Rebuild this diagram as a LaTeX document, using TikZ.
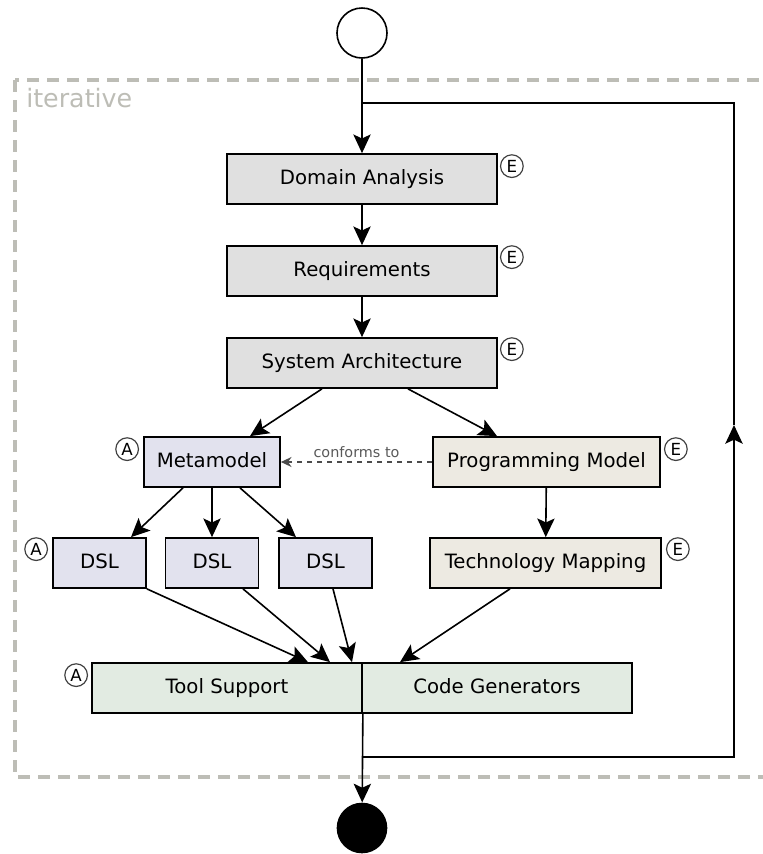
\documentclass[tikz,border=0pt]{standalone}
\usepackage{fontspec}
\setmainfont{DejaVu Sans}
\usepackage{tikz}
\usetikzlibrary{arrows.meta,calc}

\definecolor{boxgray}{HTML}{E0E0E0}
\definecolor{boxblue}{HTML}{E2E2EE}
\definecolor{boxsand}{HTML}{EDEAE2}
\definecolor{boxgreen}{HTML}{E2EBE2}
\definecolor{framegray}{HTML}{BDBDB6}

\begin{document}
\begin{tikzpicture}[x=0.75pt,y=-0.75pt]
		\tikzset{stepbox/.style={draw=black,line width=1.3pt,minimum height=37.5pt,inner sep=0pt,text height=10.8pt,text depth=3.2pt,font=\fontsize{14.8}{17}\selectfont}}
		\tikzset{badge/.style={circle,draw=black!75,line width=0.9pt,minimum size=17pt,inner sep=0pt,font=\fontsize{12.5}{13}\selectfont}}
		\tikzset{arr/.style={-{Stealth[length=14pt,width=13pt,inset=3pt]},line width=1.2pt}}
		\useasboundingbox (0,0) rectangle (763,854);
		\draw[framegray,line width=2.3pt,dash pattern=on 9pt off 6pt] (15,80) rectangle (790,777); %iteration frame
		\node[anchor=base west,inner sep=0pt,text=framegray,font=\fontsize{19}{22}\selectfont] (iter) at (26,107) {iterative};
		\node[circle,draw=black,line width=1.2pt,minimum size=37.5pt,inner sep=0pt] (start) at (362,33) {};
		\node[circle,fill=black,minimum size=38pt,inner sep=0pt] (stop) at (362,828) {};
		\node[stepbox,fill=boxgray,minimum width=202.5pt] (domain) at (362,179) {Domain Analysis};
		\node[stepbox,fill=boxgray,minimum width=202.5pt] (req) at (362,271) {Requirements};
		\node[stepbox,fill=boxgray,minimum width=202.5pt] (arch) at (362,363) {System Architecture};
		\node[stepbox,fill=boxblue,minimum width=102pt] (meta) at (212,462) {Metamodel};
		\node[stepbox,fill=boxsand,minimum width=170.25pt] (prog) at (546.5,462) {Programming Model};
		\node[stepbox,fill=boxblue,minimum width=69.75pt] (dslA) at (99.5,563) {DSL};
		\node[stepbox,fill=boxblue,minimum width=69.75pt] (dslB) at (212,563) {DSL};
		\node[stepbox,fill=boxblue,minimum width=69.75pt] (dslC) at (325.5,563) {DSL};
		\node[stepbox,fill=boxsand,minimum width=173.25pt] (tech) at (545.5,563) {Technology Mapping};
		\node[stepbox,fill=boxgreen,minimum width=202.5pt] (tool) at (227,688) {Tool Support};
		\node[stepbox,fill=boxgreen,minimum width=202.5pt] (gen) at (497,688) {Code Generators};
		% badges
		\node[badge] (eDomain) at ($(domain.north east)+(14,13)$) {E};
		\node[badge] (eReq) at ($(req.north east)+(14,12)$) {E};
		\node[badge] (eArch) at ($(arch.north east)+(14,12)$) {E};
		\node[badge] (eProg) at ($(prog.north east)+(15,13)$) {E};
		\node[badge] (eTech) at ($(tech.north east)+(16,12)$) {E};
		\node[badge] (aMeta) at ($(meta.north west)+(-16,13)$) {A};
		\node[badge] (aDsl) at ($(dslA.north west)+(-16,12)$) {A};
		\node[badge] (aTool) at ($(tool.north west)+(-15,13)$) {A};
		\coordinate (jointop) at (362,103); %loop back
		\coordinate (joinbot) at (362,757);
		\coordinate (loopr) at (734,425);
		\draw[arr] (start) -- (domain);
		\draw[arr] (domain) -- (req);
		\draw[arr] (req) -- (arch);
		\draw[arr] ($(arch.south)+(-40,0)$) -- ($(meta.north)+(38,0)$);
		\draw[arr] ($(arch.south)+(46,0)$) -- ($(prog.north)+(-49.5,0)$);
		\draw[gray!60!black,line width=1.1pt,dash pattern=on 4pt off 3.5pt,-{Stealth[length=8pt,width=7.5pt]}] (prog) -- node[above=2.5pt,inner sep=0pt,font=\fontsize{10.8}{12}\selectfont,text=gray!70!black] (conf) {conforms to} (meta);
		\draw[arr] ($(meta.south)+(-29,0)$) -- ($(dslA.north)+(31.5,0)$);
		\draw[arr] (meta) -- (dslB);
		\draw[arr] ($(meta.south)+(28,0)$) -- ($(dslC.north)+(-29.5,0)$);
		\draw[arr] (prog) -- (tech);
		\draw[arr] (dslA.south east) -- ($(tool.north)+(81,0)$);
		\draw[arr] ($(dslB.south)+(31,0)$) -- ($(tool.north)+(103,0)$);
		\draw[arr] ($(dslC.south)+(7.5,0)$) -- ($(tool.north)+(125,0)$);
		\draw[arr] ($(tech.south)+(-35.5,0)$) -- ($(gen.north)+(-97,0)$);
		\draw[arr] (tool.south east) -- (stop);
		\draw[arr] (joinbot) -| (loopr);
		\draw[line width=1.2pt] (loopr) |- (jointop);
	\end{tikzpicture}
\end{document}
